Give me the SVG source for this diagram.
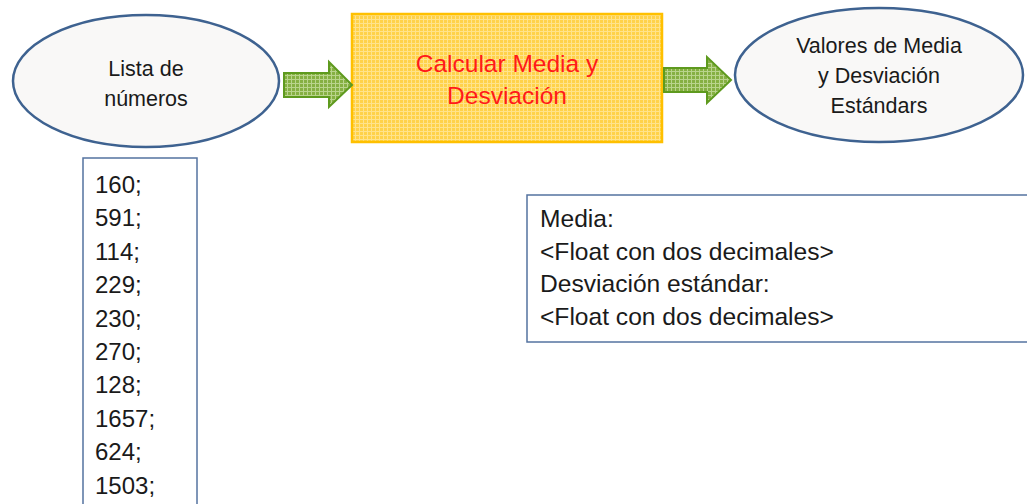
<svg xmlns="http://www.w3.org/2000/svg" width="1027" height="504" viewBox="0 0 1027 504">
<style>
.ell{fill:#f9f8f7;stroke:#3e6290;stroke-width:2.5}
.box{fill:#ffffff;stroke:#5473a0;stroke-width:1.5}
.t{font-family:"Liberation Sans",Arial,sans-serif;fill:#1a1a1a}
.ec{font-size:21.5px;text-anchor:middle}
.num{font-size:24px}
.res{font-size:24.6px}
.red{font-family:"Liberation Sans",Arial,sans-serif;fill:#ff1a1a;font-size:24.5px;text-anchor:middle}
.arr{fill:url(#gg);stroke:#5e9a1e;stroke-width:2;stroke-linejoin:miter}
</style>
<defs>
<pattern id="yg" width="4" height="4" patternUnits="userSpaceOnUse">
<rect width="4" height="4" fill="#ffe38c"/>
<rect width="3" height="3" fill="#ffd24a"/>
</pattern>
<pattern id="gg" width="4" height="4" patternUnits="userSpaceOnUse">
<rect width="4" height="4" fill="#b9d48c"/>
<rect width="3" height="3" fill="#86b043"/>
</pattern>
</defs>
<g id="lista">
<ellipse class="ell" cx="146" cy="81" rx="133" ry="66"/>
<text class="t ec" x="146" y="76">Lista de</text>
<text class="t ec" x="146" y="106">números</text>
</g>
<g id="calcular">
<rect x="352" y="14" width="310" height="128" fill="url(#yg)" stroke="#ffc000" stroke-width="2.5"/>
<text class="red" x="507" y="72">Calcular Media y</text>
<text class="red" x="507" y="104">Desviación</text>
</g>
<g id="valores">
<ellipse class="ell" cx="879" cy="75" rx="144" ry="67"/>
<text class="t ec" x="879" y="53">Valores de Media</text>
<text class="t ec" x="879" y="83">y Desviación</text>
<text class="t ec" x="879" y="113">Estándars</text>
</g>
<g id="connectors">
<polygon class="arr" points="284,73 329,73 329,62 352,85 329,107 329,97 284,97"/>
<polygon class="arr" points="664,68 707,68 707,57 731,80 707,103 707,92 664,92"/>
</g>
<g id="numeros">
<rect class="box" x="83" y="158" width="114" height="360"/>
<text class="t num" x="95" y="193">160;</text>
<text class="t num" x="95" y="226.4">591;</text>
<text class="t num" x="95" y="259.8">114;</text>
<text class="t num" x="95" y="293.2">229;</text>
<text class="t num" x="95" y="326.6">230;</text>
<text class="t num" x="95" y="360">270;</text>
<text class="t num" x="95" y="393.4">128;</text>
<text class="t num" x="95" y="426.8">1657;</text>
<text class="t num" x="95" y="460.2">624;</text>
<text class="t num" x="95" y="493.6">1503;</text>
</g>
<g id="resultado">
<rect class="box" x="527" y="195" width="520" height="147"/>
<text class="t res" x="540" y="227">Media:</text>
<text class="t res" x="540" y="259.5">&lt;Float con dos decimales&gt;</text>
<text class="t res" x="540" y="292">Desviación estándar:</text>
<text class="t res" x="540" y="324.5">&lt;Float con dos decimales&gt;</text>
</g>
</svg>
